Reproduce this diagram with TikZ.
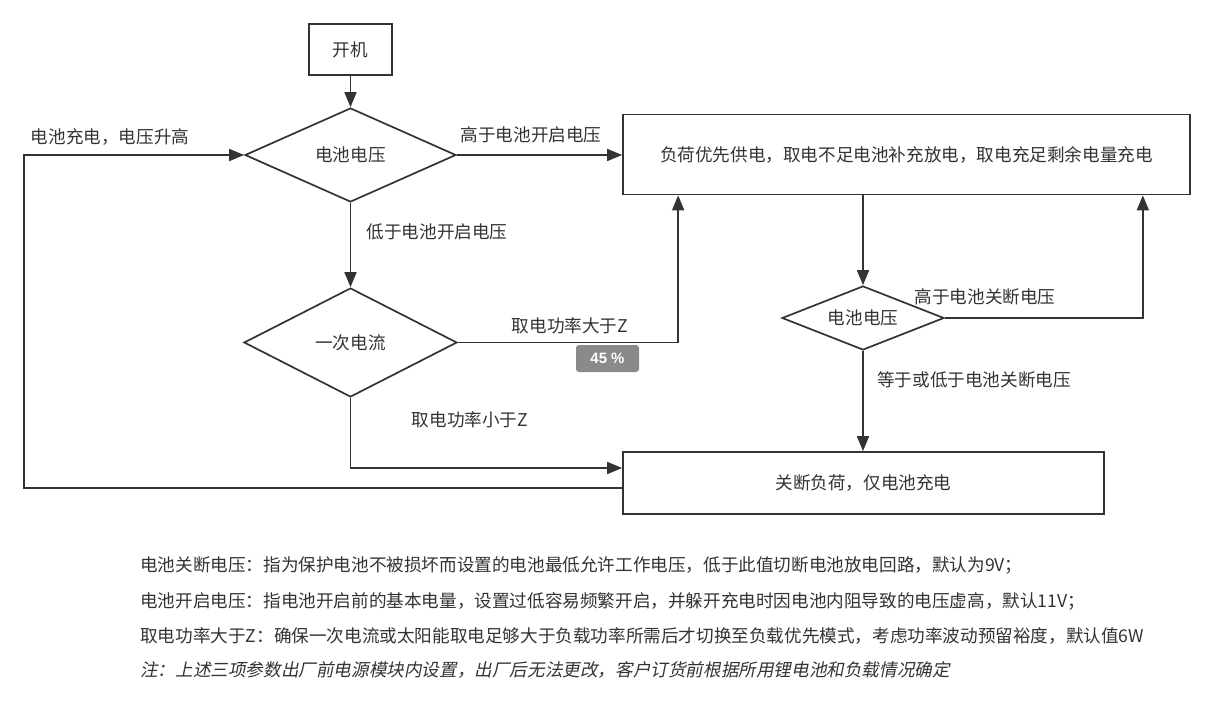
\documentclass[tikz,border=0pt]{standalone}
\usepackage{fontspec}
\setmainfont{Noto Sans CJK SC}
\newfontfamily\slantfont[FakeSlant=0.2]{Noto Sans CJK SC}
\newfontfamily\badgefont{Liberation Sans}
\usetikzlibrary{shapes.geometric,arrows.meta}
\definecolor{ink}{HTML}{333333}
\definecolor{badge}{HTML}{8A8A8A}
\begin{document}
\begin{tikzpicture}[x=1pt,y=-1pt,
  every node/.style={text=ink,font=\fontsize{17.6}{21}\selectfont},
  procbox/.style={draw=ink,line width=1.7pt,rectangle,inner sep=0pt},
  decide/.style={draw=ink,line width=1.7pt,diamond,aspect=2.2,inner sep=0pt},
  conn/.style={draw=ink,line width=1.7pt,-{Triangle[length=15pt,width=12pt]}},
  lbl/.style={inner sep=1pt},
  note/.style={anchor=west,inner sep=0pt,font=\fontsize{17.6}{21}\selectfont}]
\useasboundingbox (0,0) rectangle (1208,704);
\fill[white] (0,0) rectangle (1208,704);

\node[procbox,minimum width=83pt,minimum height=51pt] (start) at (350.5,49.5) {开机};
\node[decide,minimum width=211pt,minimum height=94pt] (d1) at (350.5,155) {电池电压};
\node[decide,minimum width=213pt,minimum height=109pt] (d2) at (350.5,342.5) {一次电流};
\node[procbox,minimum width=567pt,minimum height=80pt] (box1) at (906.5,154.5) {负荷优先供电，取电不足电池补充放电，取电充足剩余电量充电};
\node[decide,minimum width=162pt,minimum height=64pt] (d3) at (863,318) {电池电压};
\node[procbox,minimum width=481pt,minimum height=62pt] (box2) at (863.5,483) {关断负荷，仅电池充电};

\draw[conn] (start.south) -- (d1.north);
\draw[conn] (d1.east) -- (d1.east -| box1.west);
\draw[conn] (d1.south) -- (d2.north);
\draw[conn] (d2.east) -| ([xshift=56pt]box1.south west);
\draw[conn] (d2.south) |- ([yshift=15pt]box2.west);
\draw[conn] ([yshift=-5pt]box2.west) -- ++(-598,0) |- (d1.west);
\draw[conn] (d3.north |- box1.south) -- (d3.north);
\draw[conn] (d3.east) -| ([xshift=-48pt]box1.south east);
\draw[conn] (d3.south) -- (d3.south |- box2.north);

\node[lbl] (l1) at (531,135) {高于电池开启电压};
\node[lbl] (l2) at (437,232) {低于电池开启电压};
\node[lbl] (l3) at (570,326) {取电功率大于Z};
\node[lbl] (l4) at (470,420) {取电功率小于Z};
\node[lbl] (l5) at (110,137) {电池充电，电压升高};
\node[lbl] (l6) at (985,297) {高于电池关断电压};
\node[lbl] (l7) at (974,380) {等于或低于电池关断电压};

\node[fill=badge,rounded corners=3pt,minimum width=63pt,minimum height=27pt,inner sep=0pt,text=white,font=\badgefont\bfseries\fontsize{15}{18}\selectfont] (pct) at (607.5,358.5) {45 \%};

\node[note] (n1) at (140,565) {电池关断电压：指为保护电池不被损坏而设置的电池最低允许工作电压，低于此值切断电池放电回路，默认为9V；};
\node[note] (n2) at (140,601) {电池开启电压：指电池开启前的基本电量，设置过低容易频繁开启，并躲开充电时因电池内阻导致的电压虚高，默认11V；};
\node[note] (n3) at (140,636) {取电功率大于Z：确保一次电流或太阳能取电足够大于负载功率所需后才切换至负载优先模式，考虑功率波动预留裕度，默认值6W};
\node[note,font=\slantfont\fontsize{17.6}{21}\selectfont] (n4) at (140,670) {注：上述三项参数出厂前电源模块内设置，出厂后无法更改，客户订货前根据所用锂电池和负载情况确定};
\end{tikzpicture}
\end{document}
